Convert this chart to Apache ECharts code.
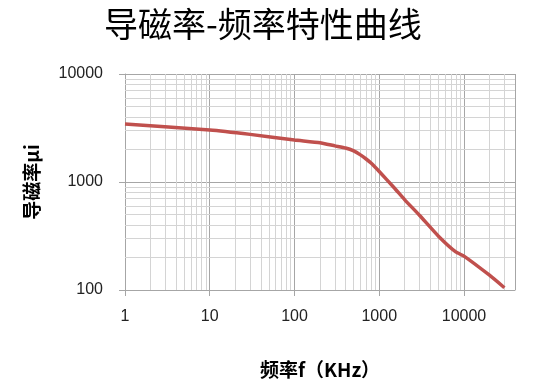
<!DOCTYPE html>
<html><head><meta charset="utf-8">
<script src="https://cdn.jsdelivr.net/npm/echarts@6/dist/echarts.min.js"></script>
<style>html,body{margin:0;padding:0;background:#fff}#c{width:548px;height:386px}</style>
</head><body><div id="c"></div>
<script>
var titleText = '导磁率-频率特性曲线';
var xName = '频率f（KHz）';
var yName = '导磁率μi';
var freq = [1, 10, 30, 100, 200, 300, 400, 500, 600, 700, 800, 1000, 1500, 2000, 3000, 5000, 8000, 10000, 20000, 30000];
var mu = [3450, 3030, 2760, 2450, 2310, 2160, 2065, 1940, 1783, 1633, 1496, 1250, 885, 684, 490, 315, 225, 206, 137, 105];
var xMin = 1, xMax = 40000, yMin = 100, yMax = 10000;
var xDecades = [1, 10, 100, 1000, 10000];
var yDecades = [100, 1000, 10000];

var xMinor = [];
xDecades.forEach(function (d) { for (var m = 2; m <= 9; m++) { if (d * m < xMax) xMinor.push(d * m); } });
var yMinor = [];
yDecades.forEach(function (d) { for (var m = 2; m <= 9; m++) { if (d * m < yMax) yMinor.push(d * m); } });

var minorColor = '#d4d4d4', majorColor = '#a6a6a6';
var labelFont = '"Liberation Sans", "Open Sans", sans-serif';
var cjkFont = '"Noto Sans CJK SC", sans-serif';
var chart = echarts.init(document.getElementById('c'), null, {renderer: 'canvas'});
chart.setOption({
  animation: false,
  title: {
    text: titleText, left: 99, top: 2,
    textStyle: {fontFamily: cjkFont, fontSize: 34, fontWeight: 'normal', color: '#000'}
  },
  grid: {left: 125, right: 33, top: 74, bottom: 96, containLabel: false},
  xAxis: {
    type: 'log', logBase: 10, min: xMin, max: xMax,
    name: xName, nameLocation: 'middle', nameGap: 70,
    nameTextStyle: {fontFamily: cjkFont, fontSize: 19, fontWeight: 'bold', color: '#000'},
    axisLine: {show: true, lineStyle: {color: majorColor, width: 1}},
    axisTick: {show: true, length: 6, lineStyle: {color: majorColor}},
    axisLabel: {fontFamily: labelFont, fontSize: 16, color: '#222', margin: 19, showMaxLabel: false,
      formatter: function (v) { return xDecades.indexOf(v) >= 0 ? String(v) : ''; }},
    splitLine: {show: true, lineStyle: {color: majorColor, width: 1}}
  },
  yAxis: {
    type: 'log', logBase: 10, min: yMin, max: yMax,
    name: yName, nameLocation: 'middle', nameGap: 84, nameRotate: 90,
    nameTextStyle: {fontFamily: cjkFont, fontSize: 19, fontWeight: 'bold', color: '#000'},
    axisLine: {show: true, lineStyle: {color: majorColor, width: 1}},
    axisTick: {show: true, length: 6, lineStyle: {color: majorColor}},
    axisLabel: {fontFamily: labelFont, fontSize: 16, color: '#222', margin: 22,
      formatter: function (v) { return String(Math.round(v)); }},
    splitLine: {show: true, lineStyle: {color: majorColor, width: 1}}
  },
  series: [
    {
      type: 'line', data: [], z: 1, silent: true,
      markLine: {
        silent: true, symbol: 'none', animation: false,
        label: {show: false},
        lineStyle: {color: minorColor, width: 1, type: 'solid'},
        emphasis: {disabled: true},
        data: xMinor.map(function (v) { return {xAxis: v}; }).concat(yMinor.map(function (v) { return {yAxis: v}; }))
      }
    },
    {
      type: 'line', z: 5,
      data: freq.map(function (f, i) { return [f, mu[i]]; }),
      smooth: 0.15, showSymbol: false, symbol: 'none',
      lineStyle: {color: '#C0504D', width: 3.5}
    }
  ]
});
</script></body></html>
